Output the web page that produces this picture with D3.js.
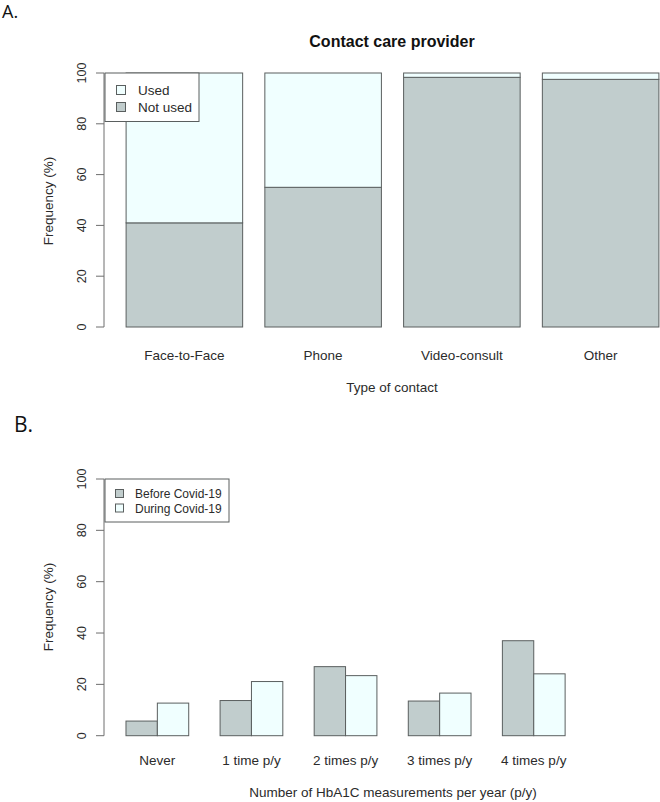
<!DOCTYPE html>
<html>
<head>
<meta charset="utf-8">
<script src="https://d3js.org/d3.v7.min.js"></script>
<style>
  body { margin: 0; background: #fff; }
  text { font-family: "Liberation Sans", Arial, sans-serif; fill: #2b2b2b; }
</style>
</head>
<body>
<div id="chart"></div>
<script>
// panel A data
var contactTypes = ["Face-to-Face", "Phone", "Video-consult", "Other"];
var notUsed = [41, 55, 98.3, 97.5];
var used = [59, 45, 1.7, 2.5];

// panel B data
var hba1cCats = ["Never", "1 time p/y", "2 times p/y", "3 times p/y", "4 times p/y"];
var beforeCovid = [5.7, 13.7, 26.9, 13.5, 37.0];
var duringCovid = [12.7, 21.1, 23.4, 16.6, 24.1];

var yTicks = [0, 20, 40, 60, 80, 100];

var GRAY = "#c1cdcd", AZURE = "#f0ffff", EDGE = "#5a5f5f", AXIS = "#6e6e6e";

var svg = d3.select("#chart").append("svg")
    .attr("width", 660).attr("height", 802);

function yAxis(g, y) {
  g.append("line")
    .attr("x1", 104).attr("x2", 104)
    .attr("y1", y(0)).attr("y2", y(100))
    .attr("stroke", AXIS);
  yTicks.forEach(function(t) {
    g.append("line")
      .attr("x1", 96).attr("x2", 104)
      .attr("y1", y(t)).attr("y2", y(t))
      .attr("stroke", AXIS);
    g.append("text")
      .attr("transform", "translate(86," + y(t) + ") rotate(-90)")
      .attr("text-anchor", "middle")
      .style("font-size", "12.5px")
      .text(t);
  });
}

// ---------- A ----------
var gA = svg.append("g");

gA.append("text").attr("x", 2).attr("y", 18)
  .style("font-size", "18px").style("font-family", "'Open Sans', sans-serif")
  .style("fill", "#111")
  .text("A.");

var yA = d3.scaleLinear().domain([0, 100]).range([327, 73]);
var xA = d3.scaleBand().domain(contactTypes).range([115, 670])
    .paddingInner(0.16).paddingOuter(0.08);

yAxis(gA, yA);

// not used at bottom, used stacked on top
gA.selectAll("rect.nu").data(contactTypes).enter().append("rect")
  .attr("x", function(d) { return xA(d); })
  .attr("width", xA.bandwidth())
  .attr("y", function(d, i) { return yA(notUsed[i]); })
  .attr("height", function(d, i) { return yA(0) - yA(notUsed[i]); })
  .attr("fill", GRAY).attr("stroke", EDGE);

gA.selectAll("rect.u").data(contactTypes).enter().append("rect")
  .attr("x", function(d) { return xA(d); })
  .attr("width", xA.bandwidth())
  .attr("y", function(d, i) { return yA(notUsed[i] + used[i]); })
  .attr("height", function(d, i) { return yA(notUsed[i]) - yA(notUsed[i] + used[i]); })
  .attr("fill", AZURE).attr("stroke", EDGE);

gA.selectAll("text.xl").data(contactTypes).enter().append("text")
  .attr("x", function(d) { return xA(d) + xA.bandwidth() / 2; })
  .attr("y", 360)
  .attr("text-anchor", "middle")
  .style("font-size", "13.5px")
  .text(function(d) { return d; });

gA.append("text").attr("x", 392).attr("y", 47)
  .attr("text-anchor", "middle")
  .style("font-size", "16px").style("font-weight", "bold").style("fill", "#111")
  .text("Contact care provider");

gA.append("text").attr("x", 392).attr("y", 392)
  .attr("text-anchor", "middle").style("font-size", "13.5px")
  .text("Type of contact");

gA.append("text")
  .attr("transform", "translate(53,201) rotate(-90)")
  .attr("text-anchor", "middle").style("font-size", "13.5px")
  .text("Frequency (%)");

// legend A
var legA = gA.append("g");
legA.append("rect").attr("x", 105).attr("y", 73).attr("width", 94).attr("height", 48.5)
  .attr("fill", "#fff").attr("stroke", EDGE);
[["Used", AZURE], ["Not used", GRAY]].forEach(function(e, i) {
  legA.append("rect").attr("x", 116.5).attr("y", 85.5 + i * 17)
    .attr("width", 9).attr("height", 9)
    .attr("fill", e[1]).attr("stroke", EDGE);
  legA.append("text").attr("x", 138).attr("y", 95 + i * 17)
    .style("font-size", "13.5px").text(e[0]);
});

// ---------- B ----------
var gB = svg.append("g");

gB.append("text").attr("x", 14).attr("y", 432)
  .style("font-size", "21px").style("font-family", "'Open Sans', sans-serif")
  .style("fill", "#111")
  .text("B.");

var yB = d3.scaleLinear().domain([0, 100]).range([735.7, 479]);
var xB = d3.scaleBand().domain(hba1cCats).range([110.3, 580.8])
    .paddingInner(1 / 3).paddingOuter(1 / 6);
var series = ["before", "during"];
var xSub = d3.scaleBand().domain(series).range([0, xB.bandwidth()]);

yAxis(gB, yB);

var rows = hba1cCats.map(function(c, i) {
  return { cat: c, vals: [{ s: "before", v: beforeCovid[i] }, { s: "during", v: duringCovid[i] }] };
});

gB.selectAll("g.grp").data(rows).enter().append("g")
  .attr("transform", function(d) { return "translate(" + xB(d.cat) + ",0)"; })
  .selectAll("rect").data(function(d) { return d.vals; }).enter().append("rect")
  .attr("x", function(d) { return xSub(d.s); })
  .attr("width", xSub.bandwidth())
  .attr("y", function(d) { return yB(d.v); })
  .attr("height", function(d) { return yB(0) - yB(d.v); })
  .attr("fill", function(d) { return d.s === "before" ? GRAY : AZURE; })
  .attr("stroke", EDGE);

gB.selectAll("text.xl").data(hba1cCats).enter().append("text")
  .attr("x", function(d) { return xB(d) + xB.bandwidth() / 2; })
  .attr("y", 765)
  .attr("text-anchor", "middle")
  .style("font-size", "13.5px")
  .text(function(d) { return d; });

gB.append("text").attr("x", 393).attr("y", 797)
  .attr("text-anchor", "middle").style("font-size", "13.5px")
  .text("Number of HbA1C measurements per year (p/y)");

gB.append("text")
  .attr("transform", "translate(53,607) rotate(-90)")
  .attr("text-anchor", "middle").style("font-size", "13.5px")
  .text("Frequency (%)");

// legend B
var legB = gB.append("g");
legB.append("rect").attr("x", 105).attr("y", 479).attr("width", 124).attr("height", 43)
  .attr("fill", "#fff").attr("stroke", EDGE);
[["Before Covid-19", GRAY], ["During Covid-19", AZURE]].forEach(function(e, i) {
  legB.append("rect").attr("x", 115.5).attr("y", 489.5 + i * 14.5)
    .attr("width", 8).attr("height", 8)
    .attr("fill", e[1]).attr("stroke", EDGE);
  legB.append("text").attr("x", 135).attr("y", 498 + i * 14.5)
    .style("font-size", "12px").text(e[0]);
});
</script>
</body>
</html>
